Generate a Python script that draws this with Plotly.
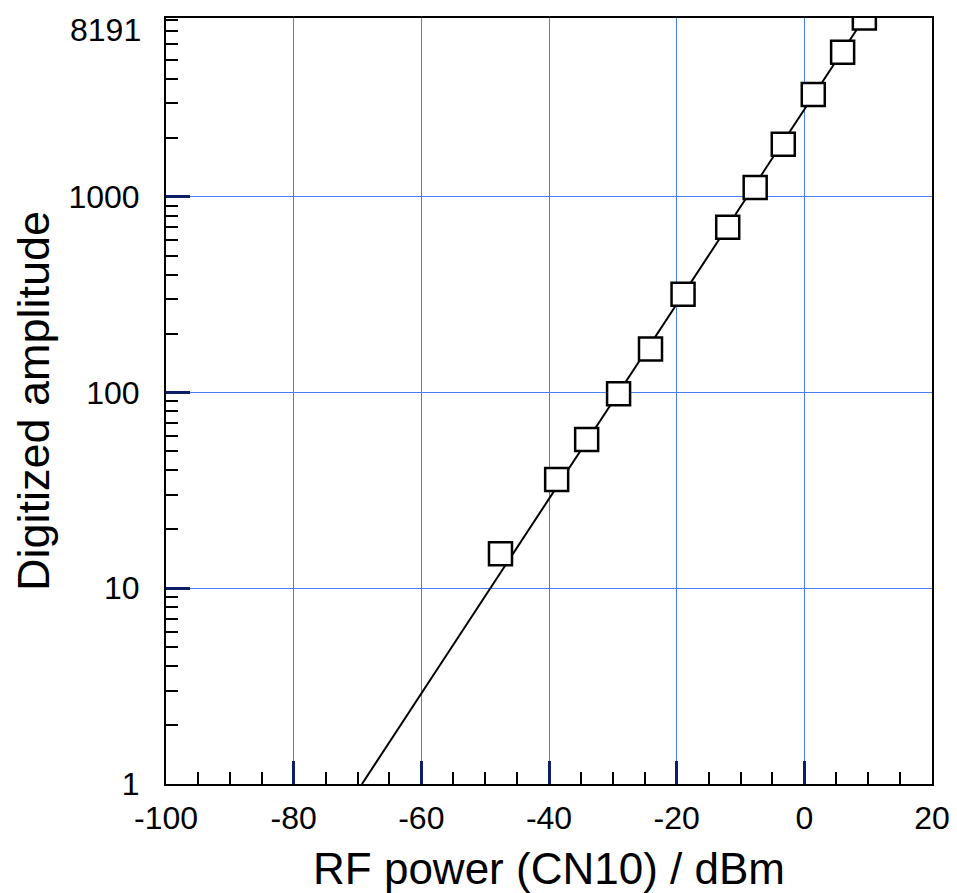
import math
import plotly.graph_objects as go

rf_power_dbm = [-47.6, -38.8, -34.1, -29.1, -24.1, -19.0, -12.0, -7.7, -3.3, 1.4, 6.0, 9.4]
amplitude = [15.0, 35.9, 57.6, 98.6, 167, 318, 698, 1114, 1854, 3334, 5480, 8191]

# Fit line end points
fit_x = [-69.3, 9.4]
fit_y = [1, 8191]

# Axis ticks
x_tickvals = [-100, -80, -60, -40, -20, 0, 20]
x_ticktext = ["-100", "-80", "-60", "-40", "-20", "0", "20"]
y_tickvals = [1, 10, 100, 1000, 8191]
y_ticktext = ["1", "10", "100", "1000", "8191"]
y_minor = [m * 10 ** d for d in range(4) for m in range(2, 10) if m * 10 ** d < 8191]

FONT = "Liberation Sans, Arial, Helvetica, sans-serif"
GRID = "#4a7cf5"
MAJOR = "#0c1f66"

fig = go.Figure()
fig.add_trace(go.Scatter(
    x=fit_x, y=fit_y, mode="lines",
    line=dict(color="black", width=2), showlegend=False, hoverinfo="skip"))
fig.add_trace(go.Scatter(
    x=rf_power_dbm, y=amplitude, mode="markers",
    marker=dict(symbol="square", size=23, color="white",
                line=dict(color="black", width=2.5)),
    showlegend=False))

# page body adds an 8px offset, so the figure is 8px smaller and margins shifted
fig.update_layout(
    width=949, height=885,
    margin=dict(l=158, r=25, t=10, b=109),
    paper_bgcolor="white", plot_bgcolor="white",
    font=dict(family=FONT, color="black"),
)

fig.update_xaxes(
    range=[-100, 20], automargin=False,
    tickmode="array", tickvals=x_tickvals, ticktext=x_ticktext,
    ticks="inside", ticklen=23, tickwidth=3, tickcolor=MAJOR,
    tickfont=dict(size=32, family=FONT, color="black"),
    ticklabelstandoff=5, ticklabeloverflow="allow",
    showgrid=True, gridcolor=GRID, gridwidth=1.2,
    showline=True, linecolor="black", linewidth=2, mirror=True,
    zeroline=False,
    minor=dict(ticks="inside", ticklen=12, tickwidth=1.8, tickcolor="black",
               tick0=0, dtick=5, showgrid=False),
    title=dict(text="RF power (CN10) / dBm", font=dict(size=44, family=FONT), standoff=24),
)

# the top label (8191) sits just below the top edge, so it is drawn as an annotation
fig.update_yaxes(
    type="log", range=[0, math.log10(y_tickvals[-1])], automargin=False,
    tickmode="array", tickvals=y_tickvals, ticktext=y_ticktext[:-1] + [""],
    ticks="inside", ticklen=24, tickwidth=3, tickcolor=MAJOR,
    tickfont=dict(size=32, family=FONT, color="black"),
    ticklabelstandoff=18, ticklabeloverflow="allow",
    showgrid=True, gridcolor=GRID, gridwidth=1.2,
    showline=True, linecolor="black", linewidth=2, mirror=True,
    zeroline=False,
    minor=dict(ticks="inside", ticklen=12, tickwidth=1.8, tickcolor="black",
               tickvals=y_minor, showgrid=False),
    title=dict(text="Digitized amplitude", font=dict(size=45, family=FONT), standoff=7),
)

fig.add_annotation(
    text=y_ticktext[-1], xref="paper", x=0, xanchor="right", xshift=-23,
    yref="y", y=math.log10(y_tickvals[-1]), yanchor="top", yshift=8,
    showarrow=False, font=dict(size=32, family=FONT, color="black"))

fig.write_html("out.html")
